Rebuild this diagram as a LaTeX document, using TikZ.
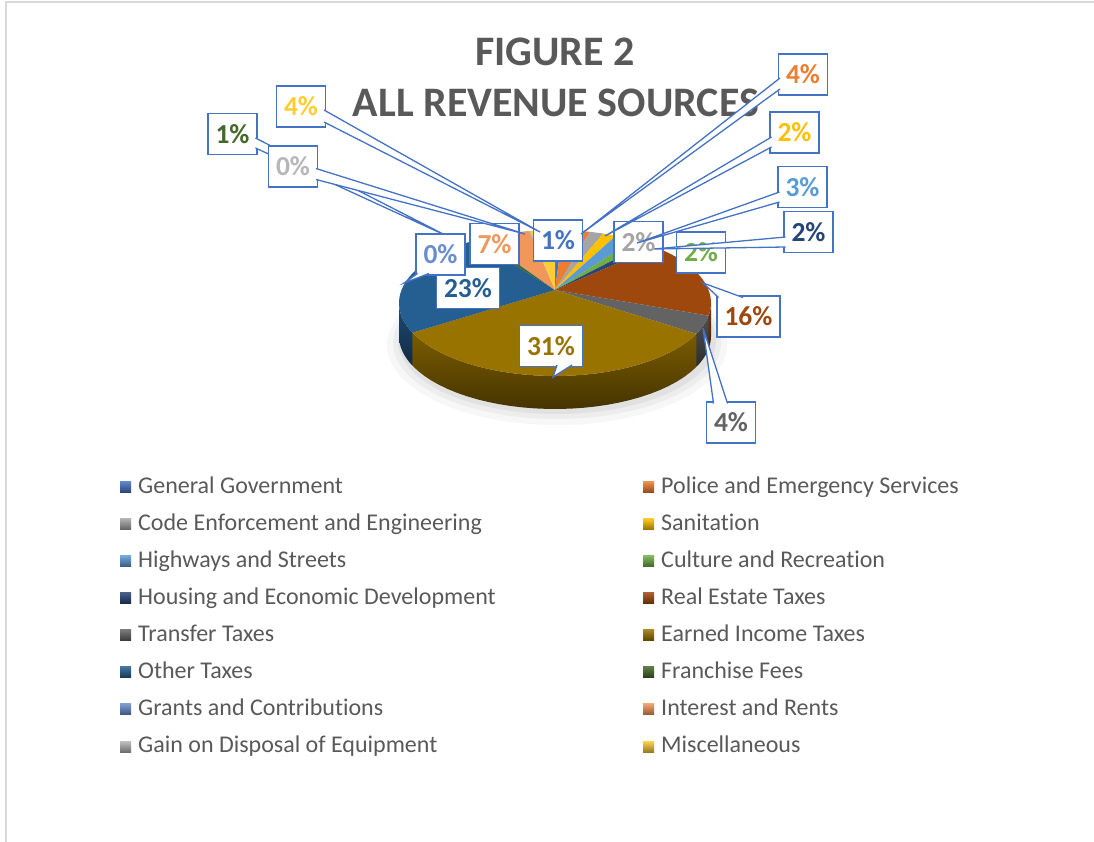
\documentclass[tikz,border=0pt]{standalone}
\usepackage{fontspec}
\setmainfont[Ligatures=NoCommon]{Carlito}
\usetikzlibrary{calc}
\usetikzlibrary{positioning}
\definecolor{frame-gray}{RGB}{217, 217, 217}
\definecolor{text-gray}{RGB}{89, 89, 89}
\definecolor{callout-blue}{RGB}{68, 114, 196}
\definecolor{c-general}{RGB}{68, 114, 196}
\definecolor{c-police}{RGB}{237, 125, 49}
\definecolor{c-code}{RGB}{165, 165, 165}
\definecolor{c-sanitation}{RGB}{255, 192, 0}
\definecolor{c-highways}{RGB}{91, 155, 213}
\definecolor{c-culture}{RGB}{112, 173, 71}
\definecolor{c-housing}{RGB}{38, 68, 120}
\definecolor{c-realestate}{RGB}{158, 72, 14}
\definecolor{c-transfer}{RGB}{99, 99, 99}
\definecolor{c-earned}{RGB}{153, 115, 0}
\definecolor{c-other}{RGB}{37, 94, 145}
\definecolor{c-franchise}{RGB}{67, 104, 43}
\definecolor{c-grants}{RGB}{105, 142, 208}
\definecolor{c-interest}{RGB}{241, 151, 90}
\definecolor{c-gain}{RGB}{183, 183, 183}
\definecolor{c-misc}{RGB}{255, 205, 51}
% top face of a slice, angles clockwise from 3 o'clock
\newcommand{\pietop}[3]{\fill[#1] (apex) -- plot[domain=#2:#3, samples=30] ({555+156*cos(\x)}, {303+73*sin(\x)}) -- cycle;}
% front wall of a slice
\newcommand{\pieside}[3]{\shade[top color=#1!80!black, bottom color=#1!45!black] plot[domain=#2:#3, samples=30] ({555+156*cos(\x)}, {303+73*sin(\x)}) -- plot[domain=#3:#2, samples=30] ({555+156*cos(\x)}, {336+73*sin(\x)}) -- cycle;}

\begin{document}
\begin{tikzpicture}[x=1pt, y=-1pt,
    callout/.style={draw=callout-blue, fill=white, line width=1.3pt, outer sep=0pt, inner xsep=7.5pt, inner ysep=0pt, minimum height=41pt, font=\bfseries\fontsize{27.5}{27.5}\selectfont},
    leader/.style={draw=callout-blue, fill=white, line width=1.3pt},
    title/.style={font=\bfseries\fontsize{42}{42}\selectfont, text=text-gray, anchor=base, inner sep=0pt},
    swatch/.style={top color=#1!85!white, bottom color=#1!60!black, minimum size=11pt, inner sep=0pt, outer sep=0pt},
    swatchtext/.style={font=\fontsize{24}{24}\selectfont, text=text-gray, inner sep=0pt, text height=17pt, text depth=5pt}]
    \useasboundingbox (0, 0) rectangle (1094, 842);
    \draw[frame-gray, line width=1.5pt] (6, 842) -- (6, 2) -- (1094, 2);

    % title
    \node[title] (figno) at (555, 66) {FIGURE 2};
    \node[title] (figname) at (556, 117) {ALL REVENUE SOURCES};

    % pie
    \coordinate (apex) at (555, 290);
    \fill[black, opacity=0.03] (557, 345) ellipse [x radius=170, y radius=80];
    \fill[black, opacity=0.04] (557, 343) ellipse [x radius=164, y radius=76];
    \fill[black, opacity=0.05] (557, 341) ellipse [x radius=159, y radius=73];
    \pieside{c-realestate}{0}{10}
    \pieside{c-transfer}{10}{25}
    \pieside{c-earned}{25}{156}
    \pieside{c-other}{156}{180}
    \pietop{c-general}{-90}{-87}
    \pietop{c-police}{-87}{-77}
    \pietop{c-code}{-77}{-72}
    \pietop{c-sanitation}{-72}{-67}
    \pietop{c-highways}{-67}{-59.5}
    \pietop{c-culture}{-59.5}{-54.5}
    \pietop{c-housing}{-54.5}{-50}
    \pietop{c-realestate}{-50}{10}
    \pietop{c-transfer}{10}{25}
    \pietop{c-earned}{25}{156}
    \pietop{c-other}{156}{239}
    \pietop{c-franchise}{239}{242}
    \pietop{c-grants}{242}{242.5}
    \pietop{c-interest}{242.5}{260.5}
    \pietop{c-gain}{260.5}{261}
    \pietop{c-misc}{261}{270}

    % data callouts
    \coordinate (tPolice) at (581, 234);
    \coordinate (tSanitation) at (605, 236);
    \coordinate (tHighways) at (637, 243);
    \coordinate (tHousing) at (654, 249);
    \coordinate (tRealestate) at (703, 283);
    \coordinate (tTransfer) at (703, 328);
    \coordinate (tEarned) at (553, 377);
    \coordinate (tFranchise) at (447, 236);
    \coordinate (tGrants) at (404, 283);
    \coordinate (tGain) at (525, 234);
    \coordinate (tMisc) at (540, 232);

    \node[callout, text=c-general] (lGeneral) at (558, 240.5) {1\%};
    \node[callout, text=c-police] (lPolice) at (803, 74.5) {4\%};
    \filldraw[leader] ($(lPolice.west)+(1.5, 3.5)$) -- (tPolice) -- ($(lPolice.west)+(1.5, 14.5)$);
    \node[callout, text=c-code] (lCode) at (638.5, 242) {2\%};
    \node[callout, text=c-sanitation] (lSanitation) at (794.5, 132.5) {2\%};
    \filldraw[leader] ($(lSanitation.west)+(1.5, 4.5)$) -- (tSanitation) -- ($(lSanitation.west)+(1.5, 14.5)$);
    \node[callout, text=c-highways] (lHighways) at (802.5, 187) {3\%};
    \filldraw[leader] ($(lHighways.west)+(1.5, 5)$) -- (tHighways) -- ($(lHighways.west)+(1.5, 15)$);
    \node[callout, text=c-culture] (lCulture) at (701, 252.5) {2\%};
    \node[callout, text=c-housing] (lHousing) at (808.5, 232) {2\%};
    \filldraw[leader] ($(lHousing.west)+(1.5, 5)$) -- (tHousing) -- ($(lHousing.west)+(1.5, 15)$);
    \node[callout, text=c-realestate] (lRealestate) at (748.5, 316.5) {16\%};
    \filldraw[leader] ($(lRealestate.north west)+(1.5, 1.5)$) -- (tRealestate) -- ($(lRealestate.north west)+(26, 1.5)$);
    \node[callout, text=c-transfer] (lTransfer) at (731, 422.5) {4\%};
    \filldraw[leader] ($(lTransfer.north west)+(7, 1.5)$) -- (tTransfer) -- ($(lTransfer.north west)+(21, 1.5)$);
    \node[callout, text=c-earned] (lEarned) at (551, 346) {31\%};
    \filldraw[leader] ($(lEarned.south)+(6, -1.5)$) -- (tEarned) -- ($(lEarned.south)+(21, -1.5)$);
    \node[callout, text=c-other] (lOther) at (468, 288) {23\%};
    \node[callout, text=c-franchise] (lFranchise) at (232.5, 134) {1\%};
    \filldraw[leader] ($(lFranchise.east)+(-1.5, 4)$) -- (tFranchise) -- ($(lFranchise.east)+(-1.5, 14)$);
    \node[callout, text=c-grants] (lGrants) at (440.5, 254.5) {0\%};
    \filldraw[leader] ($(lGrants.south west)+(1.5, -1.5)$) -- (tGrants) -- ($(lGrants.south west)+(13, -1.5)$);
    \node[callout, text=c-interest] (lInterest) at (494.5, 244) {7\%};
    \node[callout, text=c-gain] (lGain) at (293, 166.5) {0\%};
    \filldraw[leader] ($(lGain.east)+(-1.5, 2)$) -- (tGain) -- ($(lGain.east)+(-1.5, 13)$);
    \node[callout, text=c-misc] (lMisc) at (301, 106.5) {4\%};
    \filldraw[leader] ($(lMisc.east)+(-1.5, 3.5)$) -- (tMisc) -- ($(lMisc.east)+(-1.5, 15.5)$);

    % legend, left column
    \node[swatch=c-general] (mGeneral) at (125.5, 487) {};
    \node[swatchtext, right=7pt of mGeneral] (kGeneral) {General Government};
    \node[swatch=c-code] (mCode) at (125.5, 524) {};
    \node[swatchtext, right=7pt of mCode] (kCode) {Code Enforcement and Engineering};
    \node[swatch=c-highways] (mHighways) at (125.5, 561) {};
    \node[swatchtext, right=7pt of mHighways] (kHighways) {Highways and Streets};
    \node[swatch=c-housing] (mHousing) at (125.5, 598) {};
    \node[swatchtext, right=7pt of mHousing] (kHousing) {Housing and Economic Development};
    \node[swatch=c-transfer] (mTransfer) at (125.5, 635) {};
    \node[swatchtext, right=7pt of mTransfer] (kTransfer) {Transfer Taxes};
    \node[swatch=c-other] (mOther) at (125.5, 672) {};
    \node[swatchtext, right=7pt of mOther] (kOther) {Other Taxes};
    \node[swatch=c-grants] (mGrants) at (125.5, 709) {};
    \node[swatchtext, right=7pt of mGrants] (kGrants) {Grants and Contributions};
    \node[swatch=c-gain] (mGain) at (125.5, 746.5) {};
    \node[swatchtext, right=7pt of mGain] (kGain) {Gain on Disposal of Equipment};

    % legend, right column
    \node[swatch=c-police] (mPolice) at (648.5, 487) {};
    \node[swatchtext, right=7pt of mPolice] (kPolice) {Police and Emergency Services};
    \node[swatch=c-sanitation] (mSanitation) at (648.5, 524) {};
    \node[swatchtext, right=7pt of mSanitation] (kSanitation) {Sanitation};
    \node[swatch=c-culture] (mCulture) at (648.5, 561) {};
    \node[swatchtext, right=7pt of mCulture] (kCulture) {Culture and Recreation};
    \node[swatch=c-realestate] (mRealestate) at (648.5, 598) {};
    \node[swatchtext, right=7pt of mRealestate] (kRealestate) {Real Estate Taxes};
    \node[swatch=c-earned] (mEarned) at (648.5, 635) {};
    \node[swatchtext, right=7pt of mEarned] (kEarned) {Earned Income Taxes};
    \node[swatch=c-franchise] (mFranchise) at (648.5, 672) {};
    \node[swatchtext, right=7pt of mFranchise] (kFranchise) {Franchise Fees};
    \node[swatch=c-interest] (mInterest) at (648.5, 709) {};
    \node[swatchtext, right=7pt of mInterest] (kInterest) {Interest and Rents};
    \node[swatch=c-misc] (mMisc) at (648.5, 746.5) {};
    \node[swatchtext, right=7pt of mMisc] (kMisc) {Miscellaneous};
\end{tikzpicture}
\end{document}
